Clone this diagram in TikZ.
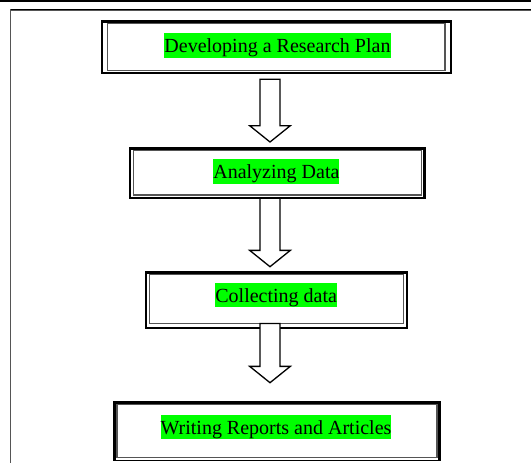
\documentclass[tikz,border=0pt]{standalone}
\usepackage{fontspec}
\setmainfont{Liberation Serif}
\usetikzlibrary{calc}
\definecolor{hl}{HTML}{00FF00}
\definecolor{innergray}{HTML}{555555}
\tikzset{
  outerbox/.style={draw=black, line width=2.3pt, rectangle, outer sep=0pt, inner sep=0pt},
  innerline/.style={draw=innergray, line width=1.3pt},
  hltext/.style={fill=hl, inner xsep=0pt, inner ysep=0pt, text height=19.3pt, text depth=5.1pt,
    font=\fontsize{20}{24}\selectfont},
  barrow/.style={draw=black, fill=white, line width=1.3pt, line join=miter},
  framefine/.style={draw=black, line width=1.2pt}
}
\newcommand\blkarrow[2]{%
  \draw[barrow] ($(#1)+(-10,0)$) -- ($(#2)+(-10,-16.3)$) -- ($(#2)+(-20.3,-16.3)$) -- (#2)
    -- ($(#2)+(20.3,-16.3)$) -- ($(#2)+(10,-16.3)$) -- ($(#1)+(10,0)$) -- cycle;}
\begin{document}
\begin{tikzpicture}[x=1pt,y=-1pt]
\useasboundingbox (0,0) rectangle (531,465);
\fill[white] (0,0) rectangle (531,465);
% frame lines
\draw[framefine, line width=1.5pt] (0,1.2) -- (531,1.2);
\draw[draw=innergray, line width=1pt] (10.4,10.8) -- (531,10.8);
\draw[framefine, line width=1pt] (10.4,9.7) -- (531,9.7);
\draw[draw=innergray, line width=1.6pt] (10.4,9.5) -- (10.4,463);
\begin{scope}
\clip (0,0) rectangle (531,461);
% boxes
\node[outerbox, minimum width=349pt, minimum height=51.5pt] (b1) at (276.6,47.25) {};
\node[outerbox, minimum width=294.5pt, minimum height=49.1pt] (b2) at (277.25,173.15) {};
\node[outerbox, minimum width=261.3pt, minimum height=55.8pt] (b3) at (276.65,300.4) {};
\node[outerbox, minimum width=324.9pt, minimum height=58.5pt] (b4) at (277.05,431.75) {};
\draw[innerline] ($(b1.south west)+(5.4,-2.4)$) rectangle ($(b1.north east)+(-6.1,2)$);
\draw[innerline] ($(b2.south west)+(3.5,-2.7)$) rectangle ($(b2.north east)+(-2.7,1.9)$);
\draw[innerline] ($(b3.south west)+(3.5,-4.8)$) rectangle ($(b3.north east)+(-3.8,2)$);
\draw[innerline] ($(b4.south west)+(2.4,-3.8)$) rectangle ($(b4.north east)+(-2.5,2)$);
% texts
\node[hltext] (t1) at (277.5,45.4) {Developing a Research Plan};
\node[hltext] (t2) at (276.4,171.7) {Analyzing Data};
\node[hltext] (t3) at (276.2,295.3) {Collecting data};
\node[hltext] (t4) at (276,427) {Writing Reports and Articles};
% arrows
\coordinate (a1s) at ($(b1.south)+(-6.6,6.3)$);
\coordinate (a1t) at ($(b2.north)+(-7.25,-6.6)$);
\coordinate (a2s) at ($(b2.south)+(-7.25,0.6)$);
\coordinate (a2t) at ($(b3.north)+(-6.65,-5.8)$);
\coordinate (a3s) at ($(b3.south)+(-6.65,-4.8)$);
\coordinate (a3t) at ($(b4.north)+(-7.05,-19.8)$);
\blkarrow{a1s}{a1t}
\blkarrow{a2s}{a2t}
\blkarrow{a3s}{a3t}
\end{scope}
\end{tikzpicture}
\end{document}
